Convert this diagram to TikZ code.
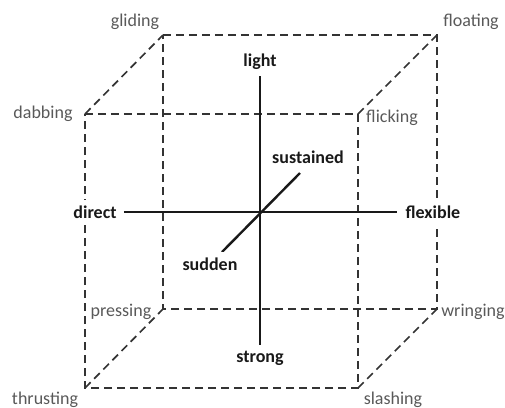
\documentclass[tikz,border=0pt]{standalone}
\usepackage{fontspec}
\setmainfont{Carlito}
\usetikzlibrary{positioning}

\begin{document}
\begin{tikzpicture}[x=0.5pt,y=-0.5pt,
  every node/.style={font=\fontsize{9}{11}\selectfont,inner sep=1pt},
  edge/.style={draw=black!80,line width=0.85pt,dash pattern=on 4pt off 2.5pt},
  axis/.style={draw=black!90,line width=1.2pt},
  mode/.style={text=black!65},
  pole/.style={font=\fontsize{9}{11}\selectfont\bfseries,text=black!90,fill=white,inner xsep=2pt,inner ysep=3pt}]
	\useasboundingbox (0,0) rectangle (505,408);
	% corners of the cube
	\coordinate (gl) at (163,35);
	\coordinate (fo) at (437,35);
	\coordinate (da) at (85,114);
	\coordinate (fl) at (358,114);
	\coordinate (pr) at (163,309);
	\coordinate (wr) at (437,309);
	\coordinate (th) at (85,388);
	\coordinate (sl) at (358,388);
	
	\draw[edge] (da)--(fl)--(sl)--(th)--cycle;
	\draw[edge] (gl)--(fo)--(wr)--(pr)--cycle;
	\draw[edge] (da)--(gl);
	\draw[edge] (fl)--(fo);
	\draw[edge] (th)--(pr);
	\draw[edge] (sl)--(wr);
	
	% ends of the axes
	\coordinate (up) at (260,75);
	\coordinate (down) at (260,348);
	\coordinate (left) at (124,212);
	\coordinate (right) at (397,212);
	\coordinate (back) at (300,173);
	\coordinate (front) at (222,252);
	
	\draw[axis] (up)--(down);
	\draw[axis] (left)--(right);
	\draw[axis] (front)--(back);
	
	\node[pole] (light) at (260,62) {light};
	\node[pole] (strong) at (260,358) {strong};
	\node[pole] (direct) at (95,212) {direct};
	\node[pole] (flexible) at (433,212) {flexible};
	\node[pole] (sustained) at (308,157) {sustained};
	\node[pole] (sudden) at (210,264) {sudden};
	
	\node[mode] (gliding) at (135,22) {gliding};
	\node[mode] (floating) at (471,22) {floating};
	\node[mode] (dabbing) at (43,114) {dabbing};
	\node[mode] (flicking) at (392,118) {flicking};
	\node[mode] (pressing) at (121,312) {pressing};
	\node[mode] (wringing) at (473,312) {wringing};
	\node[mode] (thrusting) at (45,400) {thrusting};
	\node[mode] (slashing) at (393,400) {slashing};
\end{tikzpicture}
\end{document}
